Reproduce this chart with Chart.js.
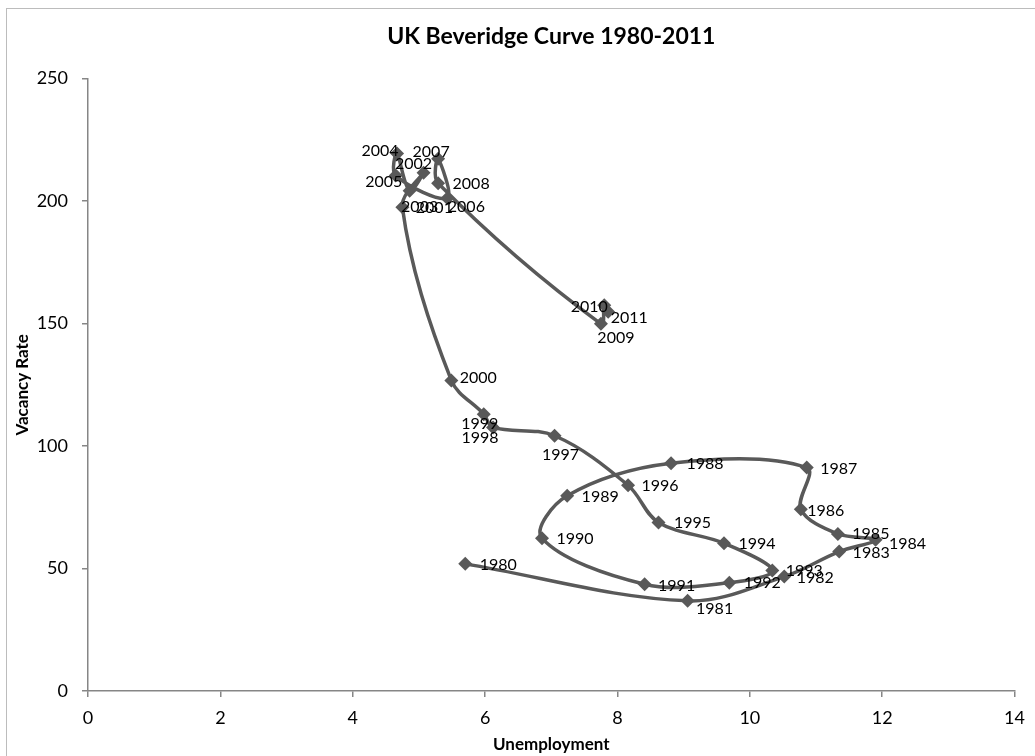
<!DOCTYPE html>
<html>
<head>
<meta charset="utf-8">
<script src="https://cdn.jsdelivr.net/npm/chart.js@4"></script>
<style>
  body { margin: 0; background: #fff; }
  #wrap { width: 1035px; height: 756px; position: relative; }
</style>
</head>
<body>
<div id="wrap"><canvas id="BeveridgeChart"></canvas></div>
<script>
// years, unemployment (%), vacancy rate
const years = [1980, 1981, 1982, 1983, 1984, 1985, 1986, 1987, 1988, 1989, 1990,
    1991, 1992, 1993, 1994, 1995, 1996, 1997, 1998, 1999, 2000,
    2001, 2002, 2003, 2004, 2005, 2006, 2007, 2008, 2009, 2010, 2011];
const unemployment = [5.70, 9.06, 10.52, 11.35, 11.90, 11.33, 10.77, 10.86, 8.81, 7.24, 6.86,
    8.41, 9.69, 10.34, 9.61, 8.62, 8.16, 7.05, 6.12, 5.98, 5.49,
    4.75, 5.07, 4.86, 4.67, 4.65, 5.43, 5.29, 5.29, 7.75, 7.80, 7.86];
const vacancies = [51.9, 36.8, 46.7, 56.9, 61.7, 64.1, 74.2, 91.2, 93.0, 79.7, 62.4,
    43.6, 44.2, 49.2, 60.3, 68.8, 84.0, 104.2, 107.6, 113.0, 126.8,
    197.5, 211.6, 204.2, 219.4, 210.4, 201.2, 217.3, 207.3, 149.9, 157.5, 154.8];
const xTicks = [0, 2, 4, 6, 8, 10, 12, 14];
const yTicks = [0, 50, 100, 150, 200, 250];

// where each year label sits relative to its marker (label centre, px)
const labelShift = [[33, 1], [27, 8], [31, 1], [32, 1], [32, 4], [33, 0], [25, 2], [32, 1], [34, 1], [33, 1], [33, 1],
    [32, 2], [33, 0], [32, 0], [33, 1], [34, 0], [32, 1], [6, 19], [-13, 10], [-4, 10], [27, -3],
    [32, 1], [-10, -9], [10, 16], [-17, -3], [-12, 6], [19, 9], [-7, -7], [33, 1], [15, 14], [-15, 2], [21, 6]];

const points = years.map((y, i) => ({ x: unemployment[i], y: vacancies[i] }));

const frame = {
    id: 'frame',
    beforeDraw(chart) {
        const c = chart.ctx;
        c.save();
        c.fillStyle = '#fff';
        c.fillRect(0, 0, chart.width, chart.height);
        c.strokeStyle = '#bcbcbc';
        c.lineWidth = 1;
        c.strokeRect(6.5, 8.5, 2000, 2000);
        c.restore();
    }
};

const yearLabels = {
    id: 'yearLabels',
    afterDatasetsDraw(chart) {
        const c = chart.ctx;
        const meta = chart.getDatasetMeta(0);
        c.save();
        c.font = '16px Lato';
        c.fillStyle = '#000';
        c.textAlign = 'center';
        c.textBaseline = 'middle';
        meta.data.forEach((pt, i) => {
            c.fillText(String(years[i]), pt.x + labelShift[i][0], pt.y + labelShift[i][1]);
        });
        c.restore();
    }
};

const axisGray = '#868686';
const ctx = document.getElementById('BeveridgeChart');
new Chart(ctx, {
    type: 'scatter',
    data: {
        datasets: [{
            label: 'Beveridge',
            data: points,
            showLine: true,
            tension: 0.35,
            borderColor: '#595959',
            borderWidth: 3.5,
            backgroundColor: '#595959',
            pointStyle: 'rectRot',
            pointRadius: 7,
            pointBorderWidth: 0,
            pointBackgroundColor: '#595959'
        }]
    },
    options: {
        responsive: true,
        maintainAspectRatio: false,
        animation: false,
        layout: { padding: { left: 0, top: 0, right: 19, bottom: 0 } },
        plugins: {
            legend: { display: false },
            tooltip: { enabled: false },
            title: {
                display: true,
                fullSize: false,
                text: 'UK Beveridge Curve 1980-2011',
                color: '#000',
                font: { family: 'Lato', size: 23, weight: 'bold' },
                padding: { top: 23, bottom: 28 }
            }
        },
        scales: {
            x: {
                type: 'linear',
                min: 0,
                max: 14,
                afterFit: (s) => { s.height = 65; },
                afterBuildTicks: (s) => { s.ticks = xTicks.map(v => ({ value: v })); },
                ticks: { color: '#000', font: { family: 'Lato', size: 18 }, padding: 10 },
                grid: { drawOnChartArea: false, drawTicks: true, tickLength: 6, color: axisGray, lineWidth: 1.5 },
                border: { color: axisGray, width: 1.5 },
                title: {
                    display: true,
                    text: 'Unemployment',
                    color: '#000',
                    font: { family: 'Lato', size: 17, weight: 'bold' },
                    padding: { top: 0, bottom: 1 }
                }
            },
            y: {
                type: 'linear',
                min: 0,
                max: 250,
                afterFit: (s) => { s.width = 88; },
                afterBuildTicks: (s) => { s.ticks = yTicks.map(v => ({ value: v })); },
                ticks: { color: '#000', font: { family: 'Lato', size: 18 }, padding: 14 },
                grid: { drawOnChartArea: false, drawTicks: true, tickLength: 6, color: axisGray, lineWidth: 1.5 },
                border: { color: axisGray, width: 1.5 },
                title: {
                    display: true,
                    text: 'Vacancy Rate',
                    color: '#000',
                    font: { family: 'Lato', size: 17, weight: 'bold' },
                    padding: { top: 12, bottom: 0 }
                }
            }
        }
    },
    plugins: [frame, yearLabels]
});
</script>
</body>
</html>
